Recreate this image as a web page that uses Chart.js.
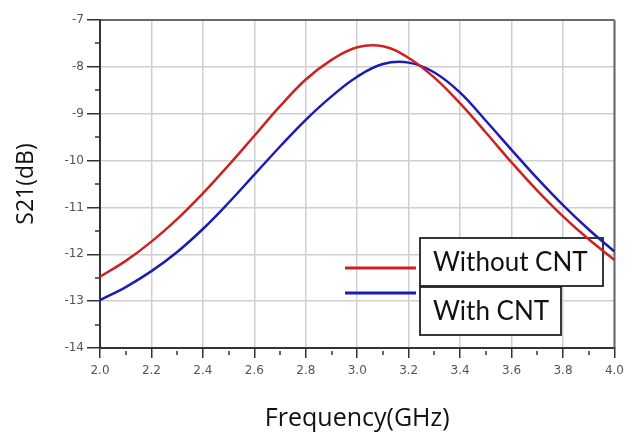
<!DOCTYPE html>
<html lang="en">
<head>
    <meta charset="utf-8">
    <title>S21 vs frequency</title>
    <script src="https://cdn.jsdelivr.net/npm/chart.js"></script>
    <style>
        body, html {
            margin: 0;
            background: #fff;
        }
        #wrap {
            width: 630px;
            height: 432px;
        }
    </style>
</head>
<body>

<div id="wrap">
    <canvas id="myChart" width="630" height="432"></canvas>
</div>

<script>
    // frequency points (GHz)
    const freq = [2.0, 2.1, 2.2, 2.3, 2.4, 2.5, 2.6, 2.7, 2.8, 2.9, 3.0,
                  3.1, 3.2, 3.3, 3.4, 3.5, 3.6, 3.7, 3.8, 3.9, 4.0];

    // S21 (dB)
    const withoutCNT = [-12.48, -12.14, -11.73, -11.25, -10.70, -10.10, -9.47, -8.84, -8.27, -7.85, -7.58,
                        -7.56, -7.81, -8.23, -8.78, -9.40, -10.04, -10.64, -11.19, -11.68, -12.12];
    const withCNT    = [-12.98, -12.70, -12.36, -11.95, -11.46, -10.90, -10.30, -9.70, -9.13, -8.63, -8.21,
                        -7.94, -7.91, -8.12, -8.55, -9.15, -9.77, -10.38, -10.95, -11.47, -11.94];

    const seriesNames = ['Without CNT', 'With CNT'];
    const seriesColors = ['#cc2222', '#1c1cb4'];

    const xMin = 2.0, xMax = 4.0;
    const yMin = -14, yMax = -7;

    function toPoints(ys) {
        return freq.map((f, i) => ({x: f, y: ys[i]}));
    }

    // minor ticks, plot frame and the boxed legend
    const decor = {
        id: 'decor',
        beforeDatasetsDraw(chart) {
            const ctx = chart.ctx;
            const a = chart.chartArea;
            const xs = chart.scales.x;
            const ys = chart.scales.y;

            ctx.save();
            ctx.strokeStyle = '#333';
            ctx.lineWidth = 1.5;
            // minor x ticks
            for (let v = 2.1; v < xMax; v += 0.2) {
                const px = Math.round(xs.getPixelForValue(v));
                ctx.beginPath();
                ctx.moveTo(px, a.bottom + 3);
                ctx.lineTo(px, a.bottom + 7);
                ctx.stroke();
            }
            // minor y ticks
            for (let v = -13.5; v < yMax; v += 1) {
                const py = Math.round(ys.getPixelForValue(v));
                ctx.beginPath();
                ctx.moveTo(a.left - 5, py);
                ctx.lineTo(a.left, py);
                ctx.stroke();
            }

            // top and right frame
            ctx.strokeStyle = '#444';
            ctx.lineWidth = 1.5;
            ctx.beginPath();
            ctx.moveTo(a.left, a.top);
            ctx.lineTo(a.right, a.top);
            ctx.stroke();
            ctx.strokeStyle = '#666';
            ctx.lineWidth = 2;
            ctx.beginPath();
            ctx.moveTo(a.right, a.top);
            ctx.lineTo(a.right, a.bottom);
            ctx.stroke();

            // legend
            const boxes = [
                {x: 420, y: 238, w: 183, h: 48, ly: 268},
                {x: 420, y: 287, w: 141, h: 48, ly: 293}
            ];
            ctx.font = '26px Lato';
            ctx.textBaseline = 'middle';
            ctx.textAlign = 'left';
            chart.data.datasets.forEach((ds, i) => {
                const b = boxes[i];
                ctx.fillStyle = '#fff';
                ctx.fillRect(b.x, b.y, b.w, b.h);
                ctx.strokeStyle = '#222';
                ctx.lineWidth = 1.8;
                ctx.strokeRect(b.x, b.y, b.w, b.h);
                ctx.fillStyle = '#111';
                ctx.fillText(ds.label, b.x + 13, b.y + b.h / 2 + 1);

                ctx.strokeStyle = ds.borderColor;
                ctx.lineWidth = 3;
                ctx.beginPath();
                ctx.moveTo(345, b.ly);
                ctx.lineTo(416, b.ly);
                ctx.stroke();
            });
            ctx.restore();
        }
    };

    const data = {
        datasets: [
            {
                label: seriesNames[0],
                data: toPoints(withoutCNT),
                borderColor: seriesColors[0],
                borderWidth: 2.5,
                pointRadius: 0,
                fill: false,
                tension: 0.4
            },
            {
                label: seriesNames[1],
                data: toPoints(withCNT),
                borderColor: seriesColors[1],
                borderWidth: 2.5,
                pointRadius: 0,
                fill: false,
                tension: 0.4
            }
        ]
    };

    const config = {
        type: 'line',
        data: data,
        plugins: [decor],
        options: {
            responsive: false,
            animation: false,
            layout: {
                padding: {left: 0, right: 12, top: 20, bottom: 0}
            },
            plugins: {
                legend: {display: false},
                tooltip: {enabled: false}
            },
            scales: {
                x: {
                    type: 'linear',
                    min: xMin,
                    max: xMax,
                    afterFit: function (s) { s.height = 84; },
                    border: {color: '#333', width: 2},
                    grid: {
                        color: '#cfcfcf',
                        lineWidth: 1.5,
                        tickColor: '#333',
                        tickLength: 10
                    },
                    ticks: {
                        stepSize: 0.2,
                        color: '#555',
                        padding: 6,
                        font: {family: 'DejaVu Sans', size: 12},
                        callback: v => v.toFixed(1)
                    },
                    title: {
                        display: true,
                        text: 'Frequency(GHz)',
                        color: '#111',
                        font: {family: 'Open Sans', size: 25},
                        padding: {top: 4, bottom: -2}
                    }
                },
                y: {
                    min: yMin,
                    max: yMax,
                    afterFit: function (s) { s.width = 100; },
                    border: {color: '#333', width: 2},
                    grid: {
                        color: '#cfcfcf',
                        lineWidth: 1.5,
                        tickColor: '#333',
                        tickLength: 13
                    },
                    ticks: {
                        stepSize: 1,
                        color: '#555',
                        padding: 3,
                        font: {family: 'DejaVu Sans', size: 12}
                    },
                    title: {
                        display: true,
                        text: 'S21(dB)',
                        color: '#111',
                        font: {family: 'Open Sans', size: 23},
                        padding: {top: 13, bottom: 0}
                    }
                }
            }
        }
    };

    myChart = new Chart(
        document.getElementById('myChart'),
        config
    );
</script>

</body>
</html>
